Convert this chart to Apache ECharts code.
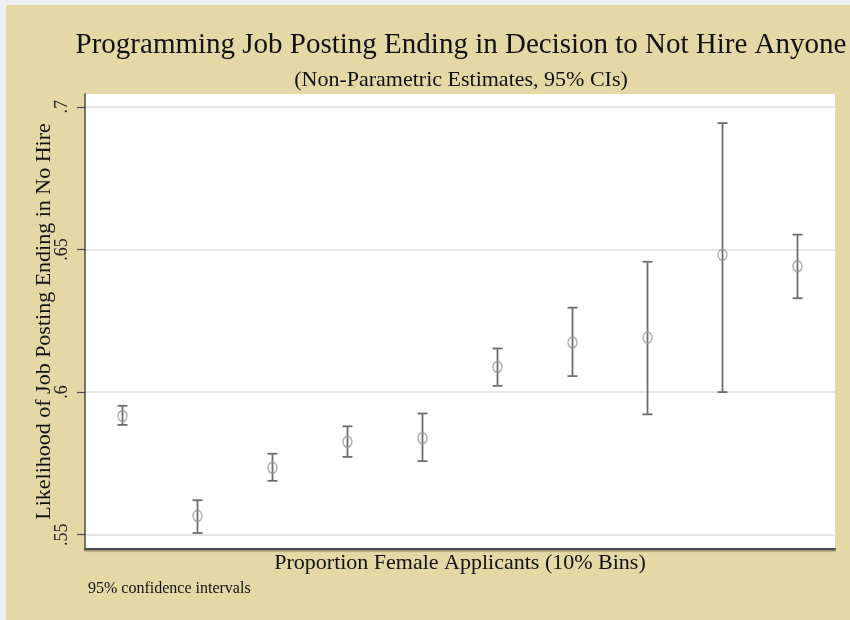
<!DOCTYPE html>
<html>
<head>
<meta charset="utf-8">
<script src="https://cdn.jsdelivr.net/npm/echarts@6/dist/echarts.min.js"></script>
<style>
  html, body { margin: 0; padding: 0; background: #eeeeee; }
  #chart { position: absolute; left: 6px; top: 5px; width: 844px; height: 615px; }
</style>
</head>
<body>
<div id="chart"></div>
<script>
// proportion female applicants, 10% bins
const bins = ['0-10%', '10-20%', '20-30%', '30-40%', '40-50%', '50-60%', '60-70%', '70-80%', '80-90%', '90-100%'];
// likelihood of job posting ending in no hire
const estimates = [0.5916, 0.5566, 0.5735, 0.5826, 0.5838, 0.6088, 0.6174, 0.6191, 0.6481, 0.6441];
const lower = [0.5885, 0.5506, 0.5689, 0.5773, 0.5758, 0.6022, 0.6056, 0.5922, 0.6000, 0.6329];
const upper = [0.5952, 0.5621, 0.5784, 0.5880, 0.5925, 0.6153, 0.6296, 0.6457, 0.6943, 0.6552];
const yTicks = [0.55, 0.6, 0.65, 0.7];

const serif = 'Liberation Serif';
let chart = echarts.init(document.getElementById('chart'));

chart.setOption({
  backgroundColor: '#e3d8a6',
  animation: false,
  title: [
    {
      text: 'Programming Job Posting Ending in Decision to Not Hire Anyone',
      left: 450, top: 21, textAlign: 'center',
      textStyle: { fontFamily: serif, fontSize: 29, fontWeight: 'normal', color: '#111' }
    },
    {
      text: '(Non-Parametric Estimates, 95% CIs)',
      left: 450, top: 59, textAlign: 'center',
      textStyle: { fontFamily: serif, fontSize: 22, fontWeight: 'normal', color: '#111' }
    }
  ],
  graphic: [{
    type: 'text', left: 82, top: 576,
    style: { text: '95% confidence intervals', font: '16px "Liberation Serif"', fill: '#111' }
  }],
  grid: {
    left: 79, top: 89, right: 15, bottom: 71,
    show: true, backgroundColor: '#ffffff', borderWidth: 0
  },
  xAxis: {
    type: 'category',
    data: bins,
    boundaryGap: true,
    name: 'Proportion Female Applicants (10% Bins)',
    nameLocation: 'middle',
    nameGap: 3,
    nameMoveOverlap: false,
    nameTextStyle: { fontFamily: serif, fontSize: 22, color: '#111' },
    axisLine: { lineStyle: { color: '#4a4a4a', width: 2, shadowColor: 'rgba(0,0,0,0.35)', shadowOffsetY: 1.5, shadowBlur: 1 } },
    axisTick: { show: false },
    axisLabel: { show: false },
    splitLine: { show: false }
  },
  yAxis: {
    type: 'value',
    min: 0.545,
    max: 0.7045,
    name: 'Likelihood of Job Posting Ending in No Hire',
    nameLocation: 'middle',
    nameGap: 30,
    nameMoveOverlap: false,
    nameTextStyle: { fontFamily: serif, fontSize: 22, color: '#111' },
    axisLine: { show: true, lineStyle: { color: '#4a4a4a', width: 1.5 } },
    axisTick: { show: true, customValues: yTicks, length: 8, lineStyle: { color: '#4a4a4a', width: 1.2 } },
    axisLabel: {
      customValues: yTicks,
      rotate: 90,
      margin: 14,
      fontFamily: serif, fontSize: 18, color: '#222',
      formatter: v => String(+v.toFixed(2)).replace(/^0/, '')
    },
    splitLine: { show: true, lineStyle: { color: '#e6e6e6', width: 2 } }
  },
  series: [
    {
      type: 'custom',
      name: '95% CI',
      data: bins.map((b, i) => [i, lower[i], upper[i]]),
      renderItem: function (params, api) {
        const lo = api.coord([api.value(0), api.value(1)]);
        const hi = api.coord([api.value(0), api.value(2)]);
        const half = 5;
        const style = { stroke: '#6e6e6e', lineWidth: 1.8 };
        return {
          type: 'group',
          children: [
            { type: 'line', shape: { x1: lo[0], y1: lo[1], x2: hi[0], y2: hi[1] }, style: style },
            { type: 'line', shape: { x1: lo[0] - half, y1: lo[1], x2: lo[0] + half, y2: lo[1] }, style: style },
            { type: 'line', shape: { x1: hi[0] - half, y1: hi[1], x2: hi[0] + half, y2: hi[1] }, style: style }
          ]
        };
      },
      z: 2
    },
    {
      type: 'scatter',
      name: 'Estimate',
      data: estimates,
      symbol: 'circle',
      symbolSize: [9, 11],
      itemStyle: { color: 'rgba(255,255,255,0)', borderColor: '#9a9a9a', borderWidth: 1.5 },
      z: 3
    }
  ]
});
</script>
</body>
</html>
